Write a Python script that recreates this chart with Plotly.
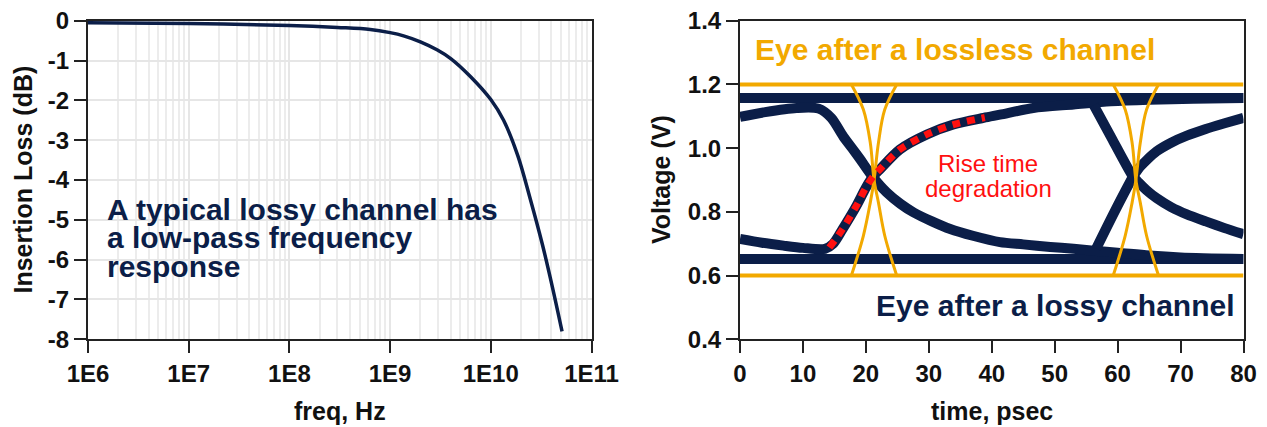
import plotly.graph_objects as go

# ---------------- data: left panel (insertion loss) ----------------
freq_hz = [1e6, 1e7, 1e8, 3e8, 6.35e8, 1e9, 1.36e9, 2e9, 2.92e9, 4e9, 6.27e9,
           1e10, 1.34e10, 1.85e10, 2.45e10, 3.24e10, 4.1e10, 5.1e10]
loss_db = [-0.05, -0.07, -0.12, -0.17, -0.22, -0.30, -0.38, -0.53, -0.73, -0.95, -1.40,
           -1.98, -2.50, -3.38, -4.45, -5.6, -6.7, -7.8]
freq_ticks = [1e6, 1e7, 1e8, 1e9, 1e10, 1e11]
freq_ticktext = ["1E6", "1E7", "1E8", "1E9", "1E10", "1E11"]
loss_ticks = [0, -1, -2, -3, -4, -5, -6, -7, -8]
loss_ticktext = ["0", "-1", "-2", "-3", "-4", "-5", "-6", "-7", "-8"]

# ---------------- data: right panel (eye diagrams) ----------------
time_ticks = [0, 10, 20, 30, 40, 50, 60, 70, 80]
volt_ticks = [0.4, 0.6, 0.8, 1.0, 1.2, 1.4]
volt_ticktext = ["0.4", "0.6", "0.8", "1.0", "1.2", "1.4"]

# lossless channel eye
lossless_rail_t = [0, 80]
lossless_high_v = [1.2, 1.2]
lossless_low_v = [0.6, 0.6]
edge1_rise_t = [17.7, 19.6, 20.7, 21.3, 22.0, 23.0, 24.9]
edge1_rise_v = [0.6, 0.725, 0.829, 0.9, 1.017, 1.121, 1.2]
edge1_fall_t = [17.7, 19.6, 20.7, 21.3, 22.0, 23.0, 24.9]
edge1_fall_v = [1.2, 1.121, 1.017, 0.9, 0.829, 0.725, 0.6]
edge2_rise_t = [59.3, 61.2, 62.3, 62.9, 63.6, 64.6, 66.5]
edge2_rise_v = [0.6, 0.725, 0.829, 0.9, 1.017, 1.121, 1.2]
edge2_fall_t = [59.3, 61.2, 62.3, 62.9, 63.6, 64.6, 66.5]
edge2_fall_v = [1.2, 1.121, 1.017, 0.9, 0.829, 0.725, 0.6]

# lossy channel eye
lossy_rail_t = [0, 80]
lossy_high_v = [1.157, 1.157]
lossy_low_v = [0.652, 0.652]
lossy_a_t = [0, 4, 9, 12.5, 14.5, 16.4, 17.8, 19.1, 21.0, 23.3, 25.5, 27.6, 30.5, 33.4,
             37, 41.3, 45, 49.3, 53, 56.2, 60, 65, 70, 80]
lossy_a_v = [1.098, 1.113, 1.126, 1.124, 1.095, 1.037, 1.0, 0.965, 0.912, 0.861, 0.825,
             0.798, 0.770, 0.746, 0.725, 0.705, 0.698, 0.690, 0.684, 0.678, 0.672,
             0.663, 0.657, 0.652]
lossy_b_t = [0, 3.5, 6.9, 10, 13.5, 14.8, 16.3, 18.5, 20.0, 21.1, 22.2, 25.4, 29.7,
             33.9, 38.7, 41.3, 46.6, 53, 58.9, 65, 72, 80]
lossy_b_v = [0.715, 0.703, 0.694, 0.687, 0.684, 0.700, 0.746, 0.819, 0.876, 0.910,
             0.933, 0.996, 1.043, 1.074, 1.095, 1.105, 1.126, 1.137, 1.147, 1.152,
             1.155, 1.157]
lossy_c_t = [56.2, 59.2, 62.3, 63.3, 64.6, 66.2, 68.5, 71.0, 74.0, 77.0, 80]
lossy_c_v = [1.135, 1.026, 0.915, 0.893, 0.868, 0.843, 0.815, 0.792, 0.770, 0.749, 0.730]
lossy_d_t = [56.6, 59.5, 62.3, 63.3, 64.6, 66.2, 68.5, 71.0, 74.0, 77.0, 80]
lossy_d_v = [0.685, 0.800, 0.905, 0.935, 0.962, 0.990, 1.017, 1.039, 1.060, 1.078, 1.095]
rise_t = [14.2, 16.3, 18.5, 20.0, 21.1, 22.2, 25.4, 29.7, 33.9, 38.9]
rise_v = [0.688, 0.746, 0.819, 0.876, 0.910, 0.933, 0.996, 1.043, 1.074, 1.096]

# ---------------- styling ----------------
# page body has an 8px margin, so the figure is sized/offset to fill the 1267x427 view
PAGE_OFF = 8
W, H = 1267 - PAGE_OFF, 427 - PAGE_OFF
NAVY = "#0B1E48"
ORANGE = "#F2A900"
RED = "#FF1010"
AX = "#222222"
FONT = "Liberation Sans, Arial, sans-serif"

L_X0, L_X1 = 88, 591.5
R_X0, R_X1 = 740, 1243.5
Y_TOP, Y_BOT = 20.7, 339.3


def px(x):
    return (x - PAGE_OFF) / W


def py(y):
    return 1 - (y - PAGE_OFF) / H


fig = go.Figure()

# left panel
fig.add_trace(go.Scatter(x=freq_hz, y=loss_db, mode="lines",
                         line=dict(color=NAVY, width=3.5, shape="spline", smoothing=1.0),
                         xaxis="x", yaxis="y", hoverinfo="skip"))


# right panel - lossy eye (navy, thick)
def navy(t, v, smooth=0.8):
    fig.add_trace(go.Scatter(x=t, y=v, mode="lines",
                             line=dict(color=NAVY, width=10, shape="spline", smoothing=smooth),
                             xaxis="x2", yaxis="y2", hoverinfo="skip"))


navy(lossy_rail_t, lossy_high_v)
navy(lossy_rail_t, lossy_low_v)
navy(lossy_a_t, lossy_a_v)
navy(lossy_b_t, lossy_b_v)
navy(lossy_c_t, lossy_c_v, 0.6)
navy(lossy_d_t, lossy_d_v, 0.6)


def orange(t, v, w):
    fig.add_trace(go.Scatter(x=t, y=v, mode="lines",
                             line=dict(color=ORANGE, width=w, shape="spline", smoothing=1.0),
                             xaxis="x2", yaxis="y2", hoverinfo="skip"))


orange(lossless_rail_t, lossless_high_v, 4)
orange(lossless_rail_t, lossless_low_v, 4)
orange(edge1_rise_t, edge1_rise_v, 3)
orange(edge1_fall_t, edge1_fall_v, 3)
orange(edge2_rise_t, edge2_rise_v, 3)
orange(edge2_fall_t, edge2_fall_v, 3)

# red dashed rise-time overlay
fig.add_trace(go.Scatter(x=rise_t, y=rise_v, mode="lines",
                         line=dict(color=RED, width=7, dash="8px,7px", shape="spline", smoothing=0.8),
                         xaxis="x2", yaxis="y2", hoverinfo="skip"))

tickfont = dict(family=FONT, size=24, color="#111111", weight="bold")
axis_common = dict(showline=True, linecolor=AX, linewidth=2, mirror=True,
                   ticks="outside", ticklen=12, tickwidth=2, tickcolor=AX,
                   tickfont=tickfont, zeroline=False, automargin=False,
                   ticklabeloverflow="allow")

minor_vals = [m * 10 ** e for e in range(6, 11) for m in range(2, 10)]

fig.update_layout(
    width=W, height=H,
    margin=dict(l=0, r=0, t=0, b=0, autoexpand=False),
    paper_bgcolor="white", plot_bgcolor="white",
    showlegend=False,
    xaxis=dict(domain=[px(L_X0), px(L_X1)], type="log", range=[6, 11],
               tickvals=freq_ticks, ticktext=freq_ticktext,
               showgrid=True, gridcolor="#E6E6E6", gridwidth=1.5,
               minor=dict(tickvals=minor_vals, showgrid=True, gridcolor="#ECECEC",
                          gridwidth=1.5, ticks=""),
               anchor="y", **axis_common),
    yaxis=dict(domain=[py(Y_BOT), py(Y_TOP)], range=[-8, 0], tickvals=loss_ticks,
               ticktext=loss_ticktext,
               showgrid=True, gridcolor="#E6E6E6", gridwidth=1.5,
               anchor="x", **axis_common),
    xaxis2=dict(domain=[px(R_X0), px(R_X1)], range=[0, 80], tickvals=time_ticks,
                showgrid=False, anchor="y2", **axis_common),
    yaxis2=dict(domain=[py(Y_BOT), py(Y_TOP)], range=[0.4, 1.4], tickvals=volt_ticks,
                ticktext=volt_ticktext, showgrid=False, anchor="x2", **axis_common),
)

ann = []


def text(s, x, y, size, color, bold=True, xanchor="center", angle=0):
    ann.append(dict(text=s, x=px(x), y=py(y), xref="paper", yref="paper",
                    xanchor=xanchor, yanchor="middle", showarrow=False, textangle=angle,
                    font=dict(family=FONT, size=size, color=color,
                              weight="bold" if bold else "normal")))


# axis titles
text("freq, Hz", (L_X0 + L_X1) / 2, 411, 25, "#111111")
text("time, psec", (R_X0 + R_X1) / 2, 411, 25, "#111111")
text("Insertion Loss (dB)", 22.5, (Y_TOP + Y_BOT) / 2, 25, "#111111", angle=-90)
text("Voltage (V)", 661, (Y_TOP + Y_BOT) / 2, 25, "#111111", angle=-90)

# left panel note
text("A typical lossy channel has", 105, 209, 30, NAVY, xanchor="left")
text("a low-pass frequency", 105, 237.5, 30, NAVY, xanchor="left")
text("response", 105, 266, 30, NAVY, xanchor="left")

# right panel labels
text("Eye after a lossless channel", 753, 49.5, 30, ORANGE, xanchor="left")
text("Eye after a lossy channel", 1237, 305, 30, NAVY, xanchor="right")
text("Rise time", 988, 163, 24, RED, bold=False)
text("degradation", 988, 188, 24, RED, bold=False)

fig.update_layout(annotations=ann)

fig.write_html("out.html")
